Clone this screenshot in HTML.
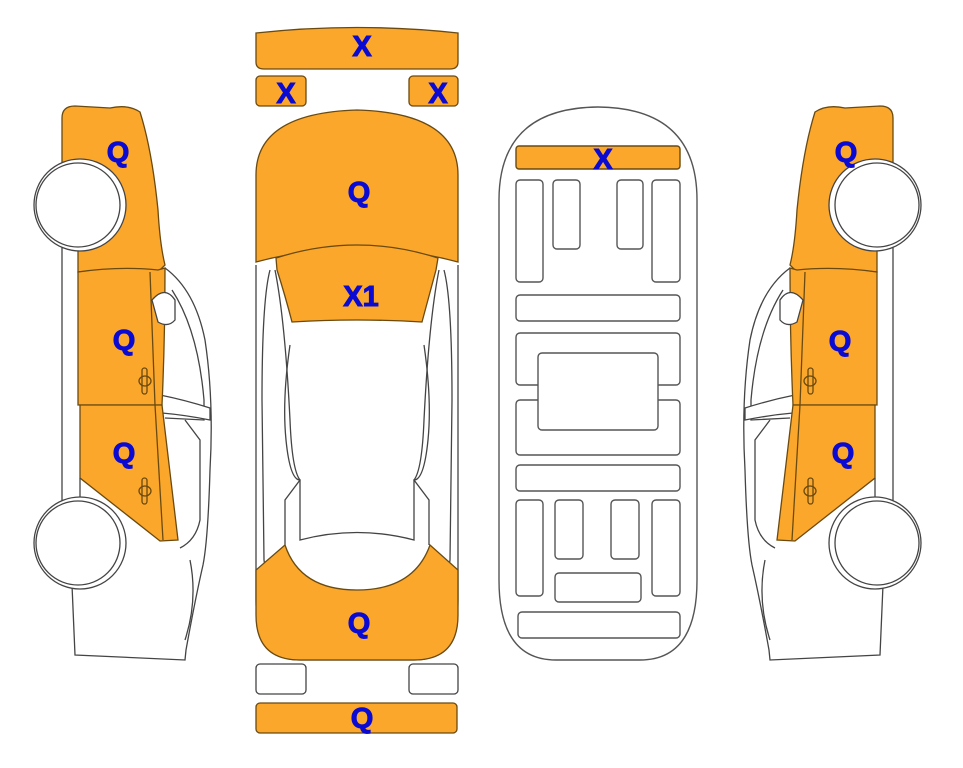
<!DOCTYPE html>
<html><head><meta charset="utf-8"><style>
html,body{margin:0;padding:0;background:#fff;}
svg{display:block;}
text{font-family:"Liberation Sans",Arial,sans-serif;font-weight:bold;font-size:29px;fill:#0a0ad2;stroke:#0a0ad2;stroke-width:1;text-anchor:middle;}
</style></head><body>
<svg width="963" height="768" viewBox="0 0 963 768" xmlns="http://www.w3.org/2000/svg">
<defs>
<g id="side" stroke="#444" stroke-width="1.3">
  <path d="M165,268 Q195,290 205,340 Q214,400 210,470 Q208,540 203,565 Q195,600 186,650 L185,660 L75,655 L72,585 L62,585 L62,245" fill="#fff"/>
  <path d="M172,290 Q198,330 204,400 L204,420 L165,418" fill="none"/>
  <path d="M160,395 Q185,400 210,408 L210,420 Q185,415 162,413" fill="#fff"/>
  <path d="M185,420 L200,440 L200,520 Q196,540 180,548" fill="none"/>
  <path d="M190,560 Q198,600 185,640" fill="none"/>
  <path d="M62,118 Q62,106 75,106 L110,108 Q128,104 140,112 Q152,150 158,210 Q160,245 165,265 L158,272 Q120,268 78,272 L78,245 L62,245 Z" fill="#fba72c" stroke="#6a4a10"/>
  <path d="M78,272 Q120,266 158,270 L165,268 Q165,340 162,405 L78,405 Z" fill="#fba72c" stroke="#6a4a10"/>
  <path d="M80,405 L162,405 Q170,470 178,540 L160,541 L80,478 Z" fill="#fba72c" stroke="#6a4a10"/>
  <path d="M150,272 L155,405 L163,540" fill="none" stroke="#6a4a10"/>
  <path d="M152,300 Q165,285 175,300 L175,320 Q168,328 158,322 Z" fill="#fff"/>
  <rect x="142" y="368" width="5" height="26" rx="2.5" fill="none" stroke="#6a4a10"/>
  <ellipse cx="145" cy="381" rx="6" ry="5" fill="none" stroke="#6a4a10"/>
  <rect x="142" y="478" width="5" height="26" rx="2.5" fill="none" stroke="#6a4a10"/>
  <ellipse cx="145" cy="491" rx="6" ry="5" fill="none" stroke="#6a4a10"/>
  <circle cx="80" cy="205" r="46" fill="#fff"/>
  <circle cx="78" cy="205" r="42" fill="#fff"/>
  <path d="M80,478 L80,500" fill="none"/>
  <circle cx="80" cy="543" r="46" fill="#fff"/>
  <circle cx="78" cy="543" r="42" fill="#fff"/>
</g>
</defs>
<use href="#side"/>
<use href="#side" transform="translate(955,0) scale(-1,1)"/>

<g stroke="#444" stroke-width="1.3">
  <path d="M256,265 L256,600 Q256,660 300,660 L414,660 Q458,660 458,600 L458,265" fill="#fff"/>
  <path d="M270,270 Q262,300 262,400 L264,560 Q268,590 280,600" fill="none"/>
  <path d="M444,270 Q452,300 452,400 L450,560 Q446,590 434,600" fill="none"/>
  <path d="M275,270 Q285,320 290,420 Q292,470 300,480 L285,500 L285,545" fill="none"/>
  <path d="M439,270 Q429,320 424,420 Q422,470 414,480 L429,500 L429,545" fill="none"/>
  <path d="M290,345 Q282,400 286,440 Q290,480 300,480 L300,540 Q357,525 414,540 L414,480 Q424,480 428,440 Q432,400 424,345" fill="none"/>
  <path d="M256,175 Q256,113 357,110 Q458,113 458,175 L458,262 Q357,235 256,262 Z" fill="#fba72c" stroke="#6a4a10"/>
  <path d="M276,258 Q357,232 438,258 L436,270 Q428,300 422,322 Q357,318 292,322 Q285,295 277,270 Z" fill="#fba72c" stroke="#6a4a10"/>
  <path d="M285,545 Q300,590 357,590 Q414,590 430,545 L458,570 L458,615 Q458,660 414,660 L300,660 Q256,660 256,615 L256,570 Z" fill="#fba72c" stroke="#6a4a10"/>
  <path d="M256,33 Q357,22 458,33 L458,62 Q458,69 450,69 L264,69 Q256,69 256,62 Z" fill="#fba72c" stroke="#6a4a10"/>
  <rect x="256" y="76" width="50" height="30" rx="4" fill="#fba72c" stroke="#6a4a10"/>
  <rect x="409" y="76" width="49" height="30" rx="4" fill="#fba72c" stroke="#6a4a10"/>
  <rect x="256" y="664" width="50" height="30" rx="4" fill="#fff"/>
  <rect x="409" y="664" width="49" height="30" rx="4" fill="#fff"/>
  <rect x="256" y="703" width="201" height="30" rx="4" fill="#fba72c" stroke="#6a4a10"/>
</g>

<g stroke="#555" stroke-width="1.4" fill="#fff">
  <path d="M499,200 Q499,108 598,107 Q697,108 697,200 L697,580 Q697,660 640,660 L556,660 Q499,660 499,580 Z"/>
  <rect x="516" y="146" width="164" height="23" rx="3" fill="#fba72c" stroke="#6a4a10"/>
  <rect x="516" y="180" width="27" height="102" rx="4"/>
  <rect x="553" y="180" width="27" height="69" rx="4"/>
  <rect x="617" y="180" width="26" height="69" rx="4"/>
  <rect x="652" y="180" width="28" height="102" rx="4"/>
  <rect x="516" y="295" width="164" height="26" rx="4"/>
  <rect x="516" y="333" width="164" height="52" rx="4"/>
  <rect x="516" y="400" width="164" height="55" rx="4"/>
  <rect x="538" y="353" width="120" height="77" rx="4"/>
  <rect x="516" y="465" width="164" height="26" rx="4"/>
  <rect x="516" y="500" width="27" height="96" rx="4"/>
  <rect x="555" y="500" width="28" height="59" rx="4"/>
  <rect x="611" y="500" width="28" height="59" rx="4"/>
  <rect x="652" y="500" width="28" height="96" rx="4"/>
  <rect x="555" y="573" width="86" height="29" rx="4"/>
  <rect x="518" y="612" width="162" height="26" rx="4"/>
</g>

<text x="362" y="56">X</text>
<text x="286" y="103">X</text>
<text x="438" y="103">X</text>
<text x="359" y="202">Q</text>
<text x="361" y="306">X1</text>
<text x="359" y="633">Q</text>
<text x="362" y="728">Q</text>
<text x="603" y="169">X</text>
<text x="118" y="162">Q</text>
<text x="124" y="350">Q</text>
<text x="124" y="463">Q</text>
<text x="846" y="162">Q</text>
<text x="840" y="351">Q</text>
<text x="843" y="463">Q</text>
</svg>
</body></html>
